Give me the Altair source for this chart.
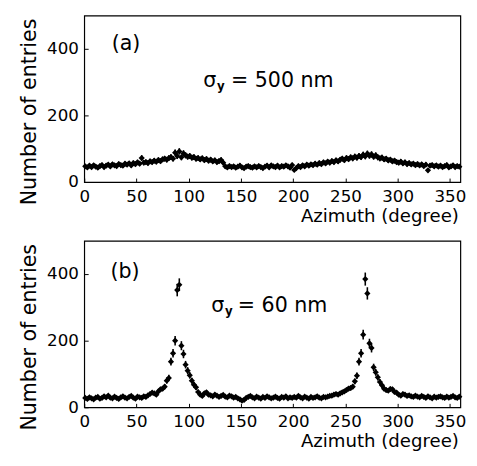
import altair as alt
import pandas as pd

# 2-degree bins, bin centres 1, 3, ..., 359
azimuth = list(range(1, 360, 2))

# (a) sigma_y = 500 nm
entries_a = [
    47, 44, 49, 45, 50, 46, 43, 48, 51, 45,
    49, 52, 47, 53, 50, 48, 54, 51, 49, 55,
    52, 56, 50, 57, 54, 59, 55, 72, 58, 60,
    57, 62, 60, 64, 61, 66, 63, 68, 70, 67,
    72, 75, 70, 88, 78, 92, 74, 86, 80, 76,
    78, 73, 75, 70, 72, 68, 71, 66, 69, 64,
    67, 62, 65, 60, 63, 66, 58, 47, 44, 48,
    45, 47, 43, 46, 49, 44, 42, 46, 48, 45,
    43, 47, 44, 48, 45, 42, 46, 49, 44, 50,
    47, 45, 49, 44, 48, 46, 50, 47, 43, 51,
    36, 42, 48, 45, 50, 47, 52, 49, 53, 51,
    55, 52, 57, 54, 59, 56, 61, 58, 63, 60,
    65, 62, 67, 70, 66, 72, 69, 74, 71, 76,
    73, 78, 75, 82, 77, 85, 79, 83, 76, 80,
    74, 71, 73, 68, 70, 65, 67, 62, 64, 60,
    58, 61, 56, 59, 54, 57, 53, 55, 51, 54,
    50, 53, 48, 52, 35, 49, 51, 47, 50, 46,
    49, 45, 48, 51, 44, 47, 50, 45, 48, 46,
]

# (b) sigma_y = 60 nm
entries_b = [
    28, 25, 30, 27, 24, 29, 31, 26, 28, 33,
    30, 35, 29, 27, 32, 28, 25, 30, 33, 29,
    27, 31, 34, 29, 26, 32, 30, 28, 33, 31,
    36, 40, 44, 42, 38, 48, 54, 56, 62, 80,
    88, 137, 162, 200, 352, 368, 185, 160, 128, 110,
    96, 80, 68, 60, 46, 38, 34, 42, 45, 38,
    36, 33, 38, 35, 31, 34, 37, 32, 30, 35,
    33, 29, 31, 27, 24, 20, 22, 28, 31, 34,
    30, 27, 32, 29, 26, 31, 28, 33, 30, 27,
    29, 32, 28, 26, 31, 29, 33, 27, 30, 28,
    31, 29, 34, 30, 27, 32, 29, 26, 31, 28,
    30, 33, 29, 27, 31, 30, 32, 34, 35, 38,
    40, 38, 42, 45, 48, 52, 56, 58, 62, 78,
    95, 137, 162, 218, 385, 342, 192, 178, 120, 105,
    90, 76, 66, 56, 52, 50, 55, 54, 46, 44,
    38, 35, 40, 38, 34, 36, 33, 31, 35, 32,
    30, 34, 31, 28, 33, 30, 27, 32, 29, 31,
    33, 30, 28, 32, 29, 31, 34, 30, 28, 32,
]

x_ticks = [0, 50, 100, 150, 200, 250, 300, 350]
y_ticks = [0, 200, 400]
panel_labels = ["(a)", "(b)"]
sigma_values = ["= 500 nm", "= 60 nm"]

FONT = "DejaVu Sans"
W, H = 384, 170

x_axis = alt.Axis(
    values=x_ticks, title="Azimuth (degree)", grid=False, domain=False,
    tickSize={"expr": "-4"}, tickColor="black", tickWidth=1,
    labelPadding=11, labelFont=FONT, labelFontSize=17, labelColor="black",
    labelFlush=False,
    titleFont=FONT, titleFontSize=18.5, titleFontWeight="normal", titleColor="black",
    titleAnchor="end", titleAlign="right", titleBaseline="alphabetic",
    titleX=382, titleY=40,
)
y_axis = alt.Axis(
    values=y_ticks, title="Number of entries", grid=False, domain=False,
    tickSize={"expr": "-4"}, tickColor="black", tickWidth=1,
    labelPadding=10, labelFont=FONT, labelFontSize=17, labelColor="black",
    labelFlush=False,
    titleFont=FONT, titleFontSize=21, titleFontWeight="normal", titleColor="black",
    titleAngle=270, titleAlign="center", titleBaseline="alphabetic",
    titleX=-50, titleY=98,
)
x_scale = alt.Scale(domain=[0, 360], nice=False, zero=False)
y_scale = alt.Scale(domain=[0, 500], nice=False)


def panel(values, label, label_pos, sigma_txt, sig_pos, eq_x):
    df = pd.DataFrame({"az": azimuth, "n": values})
    base = alt.Chart(df)

    pts = base.mark_point(
        shape="diamond", filled=True, size=40, color="black", opacity=1
    ).encode(
        x=alt.X("az:Q", scale=x_scale, axis=x_axis),
        y=alt.Y("n:Q", scale=y_scale, axis=y_axis),
    )
    err = base.transform_calculate(
        lo="datum.n - sqrt(datum.n)", hi="datum.n + sqrt(datum.n)"
    ).mark_rule(color="black", strokeWidth=1.6).encode(
        x=alt.X("az:Q", scale=x_scale, axis=x_axis),
        y=alt.Y("lo:Q", scale=y_scale, axis=y_axis),
        y2="hi:Q",
    )

    lab_df = pd.DataFrame({"az": [label_pos[0]], "n": [label_pos[1]], "t": [label]})
    lab = alt.Chart(lab_df).mark_text(
        font=FONT, fontSize=21, align="center", baseline="middle", color="black"
    ).encode(x="az:Q", y="n:Q", text="t:N")

    sig_df = pd.DataFrame({"az": [sig_pos[0]], "n": [sig_pos[1]]})
    sig = alt.Chart(sig_df).mark_text(
        font=FONT, fontSize=21, align="left", baseline="alphabetic", color="black", text="σ"
    ).encode(x="az:Q", y="n:Q")
    sub = alt.Chart(sig_df).mark_text(
        font=FONT, fontSize=12, fontWeight="bold", align="left", baseline="alphabetic",
        color="black", text="y", dx=14, dy=3
    ).encode(x="az:Q", y="n:Q")
    eq_df = pd.DataFrame({"az": [eq_x], "n": [sig_pos[1]], "t": [sigma_txt]})
    eq = alt.Chart(eq_df).mark_text(
        font=FONT, fontSize=21, align="left", baseline="alphabetic", color="black"
    ).encode(x="az:Q", y="n:Q", text="t:N")

    return alt.layer(pts, err, lab, sig, sub, eq).properties(width=W, height=H)


top = panel(entries_a, panel_labels[0], (40, 415), sigma_values[0], (114, 285), 140.5)
bottom = panel(entries_b, panel_labels[1], (39, 406), sigma_values[1], (121.5, 285), 147)

chart = alt.vconcat(top, bottom, spacing=60, bounds="flush").properties(
    padding={"left": 18, "top": 10, "right": 10, "bottom": 5},
    background="white",
).configure_view(stroke="black", strokeWidth=1.2)

chart.save("out.html", embed_options={"renderer": "svg", "actions": False})
